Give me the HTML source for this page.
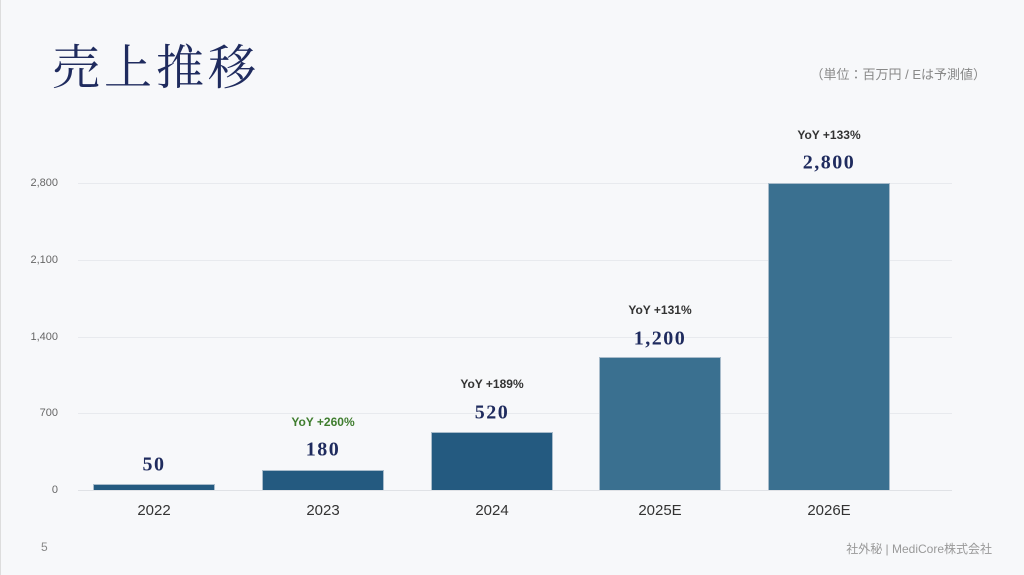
<!DOCTYPE html>
<html><head><meta charset="utf-8"><style>
body{margin:0;width:1024px;height:575px;background:#f7f8fa;position:relative;overflow:hidden;font-family:"Liberation Sans","Noto Sans CJK JP",sans-serif}
.a{position:absolute}
.g{position:absolute;left:78px;width:874px;height:1px;background:#e8eaee}
.yl{position:absolute;right:966px;font-size:11px;color:#666;transform:translateY(-50%)}
.bar{position:absolute;width:122px;box-sizing:border-box;border:1px solid #a9bccb;border-bottom:none}
.v{position:absolute;width:160px;text-align:center;font-family:"Liberation Serif",serif;font-weight:bold;font-size:20px;color:#1f2b5e;transform:translateY(-50%);letter-spacing:1.5px}
.yy{position:absolute;width:160px;text-align:center;font-weight:bold;font-size:12px;color:#333;transform:translateY(-50%)}
.x{position:absolute;width:160px;text-align:center;font-size:15px;color:#333;top:502px}
</style></head><body>
<div class="a" style="left:0;top:0;width:1px;height:575px;background:#ddd"></div>
<div class="a" style="left:52px;top:32px;font-size:48px;line-height:64px;color:#1f2b5e;font-family:'Noto Serif CJK SC','Noto Serif CJK JP',serif;letter-spacing:4px">売上推移</div>
<div class="a" style="right:38px;top:64px;font-size:13px;color:#888">（単位：百万円 / Eは予測値）</div>
<div class="g" style="top:183px"></div><div class="g" style="top:260px"></div><div class="g" style="top:337px"></div><div class="g" style="top:413px"></div><div class="g" style="top:490px;background:#e0e2e6"></div>
<div class="yl" style="top:183px">2,800</div><div class="yl" style="top:260px">2,100</div><div class="yl" style="top:337px">1,400</div><div class="yl" style="top:413px">700</div><div class="yl" style="top:490px">0</div>
<div class="bar" style="left:93px;top:484px;height:6px;background:#245a80"></div>
<div class="bar" style="left:262px;top:470px;height:20px;background:#245a80"></div>
<div class="bar" style="left:431px;top:432px;height:58px;background:#245a80"></div>
<div class="bar" style="left:599px;top:357px;height:133px;background:#3a7090"></div>
<div class="bar" style="left:768px;top:183px;height:307px;background:#3a7090"></div>
<div class="v" style="left:74px;top:465px">50</div>
<div class="v" style="left:243px;top:450px">180</div>
<div class="v" style="left:412px;top:413px">520</div>
<div class="v" style="left:580px;top:339px">1,200</div>
<div class="v" style="left:749px;top:163px">2,800</div>
<div class="yy" style="left:243px;top:422px;color:#3f7d2e">YoY +260%</div>
<div class="yy" style="left:412px;top:384px">YoY +189%</div>
<div class="yy" style="left:580px;top:310px">YoY +131%</div>
<div class="yy" style="left:749px;top:135px">YoY +133%</div>
<div class="x" style="left:74px">2022</div><div class="x" style="left:243px">2023</div><div class="x" style="left:412px">2024</div><div class="x" style="left:580px">2025E</div><div class="x" style="left:749px">2026E</div>
<div class="a" style="left:41px;top:540px;font-size:12px;color:#888">5</div>
<div class="a" style="right:32px;top:540px;font-size:12px;color:#999">社外秘 | MediCore株式会社</div>
</body></html>
